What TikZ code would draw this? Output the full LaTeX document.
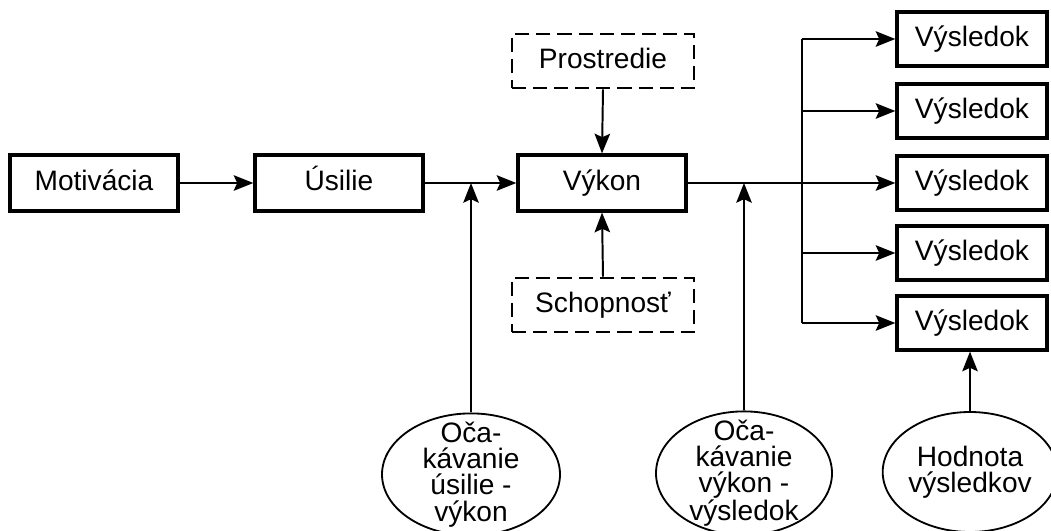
\documentclass[tikz,border=0pt]{standalone}
\usepackage{fontspec}
\setmainfont{Liberation Sans}
\usetikzlibrary{arrows.meta,positioning,shapes.geometric}

\begin{document}
\begin{tikzpicture}[
  font=\fontsize{20}{18.8}\selectfont,
  blok/.style={draw=black,line width=2.3pt,align=center,minimum width=4.2cm,minimum height=1.4cm,inner sep=0pt,text height=14pt,text depth=4pt},
  vysl/.style={draw=black,line width=2.3pt,align=center,minimum width=3.75cm,minimum height=1.35cm,inner sep=0pt,text height=14pt,text depth=4pt},
  vplyv/.style={draw=black,line width=1.8pt,dash pattern=on 10pt off 5pt,align=center,minimum width=4.55cm,minimum height=1.35cm,inner sep=0pt,text height=14pt,text depth=4pt},
  ocak/.style={ellipse,draw=black,line width=1.3pt,align=center,minimum width=4.45cm,minimum height=3.05cm,inner xsep=0pt,inner ysep=-7pt},
  flow/.style={-{Stealth[length=14pt,width=11pt,inset=2.5pt]},line width=1.4pt},
  spoj/.style={line width=1.4pt}]
\useasboundingbox (0,0) rectangle (26.275,-13.25);
\node[blok] (mot) at (2.35,-4.575) {Motivácia};
\node[blok] (usi) at (8.475,-4.575) {Úsilie};
\node[blok] (vyk) at (15.05,-4.575) {Výkon};
\node[vplyv] (pro) at (15.075,-1.525) {Prostredie};
\node[vplyv] (sch) at (15.075,-7.625) {Schopnosť};
\node[vysl] (v1) at (24.3,-0.975) {Výsledok};
\node[vysl] (v2) at (24.3,-2.775) {Výsledok};
\node[vysl] (v3) at (24.3,-4.575) {Výsledok};
\node[vysl] (v4) at (24.3,-6.325) {Výsledok};
\node[vysl] (v5) at (24.3,-8.075) {Výsledok};
\node[ocak] (e1) at (11.775,-11.86) {Oča-\\kávanie\\úsilie -\\výkon};
\node[ocak,minimum width=4.4cm] (e2) at (18.6,-11.83) {Oča-\\kávanie\\výkon -\\výsledok};
\node[ocak,minimum width=4.15cm,minimum height=3cm,inner ysep=0pt] (e3) at (24.25,-11.8) {Hodnota\\výsledkov};
\coordinate (j1) at (11.75,-4.575);
\coordinate (j2) at (18.575,-4.575);
\coordinate (bus) at (20.05,-4.575);
% hlavna vetva
\draw[flow] (mot.east)--(usi.west);
\draw[flow] (usi.east)--(vyk.west);
\draw[flow] (pro.south)--(vyk.north);
\draw[flow] (sch.north)--(vyk.south);
\draw[flow] (vyk.east)--(v3.west);
\draw[flow] (e1.north)--(e1.north|-j1);
\draw[flow] (e2.north)--(e2.north|-j2);
% rozvod na vysledky
\draw[spoj] (v1.west-|bus)--(v5.west-|bus);
\foreach \v in {v1,v2,v4,v5}
  \draw[flow] (\v.west-|bus)--(\v.west);
\draw[flow] (e3.north)--(e3.north|-v5.south);
\end{tikzpicture}
\end{document}
